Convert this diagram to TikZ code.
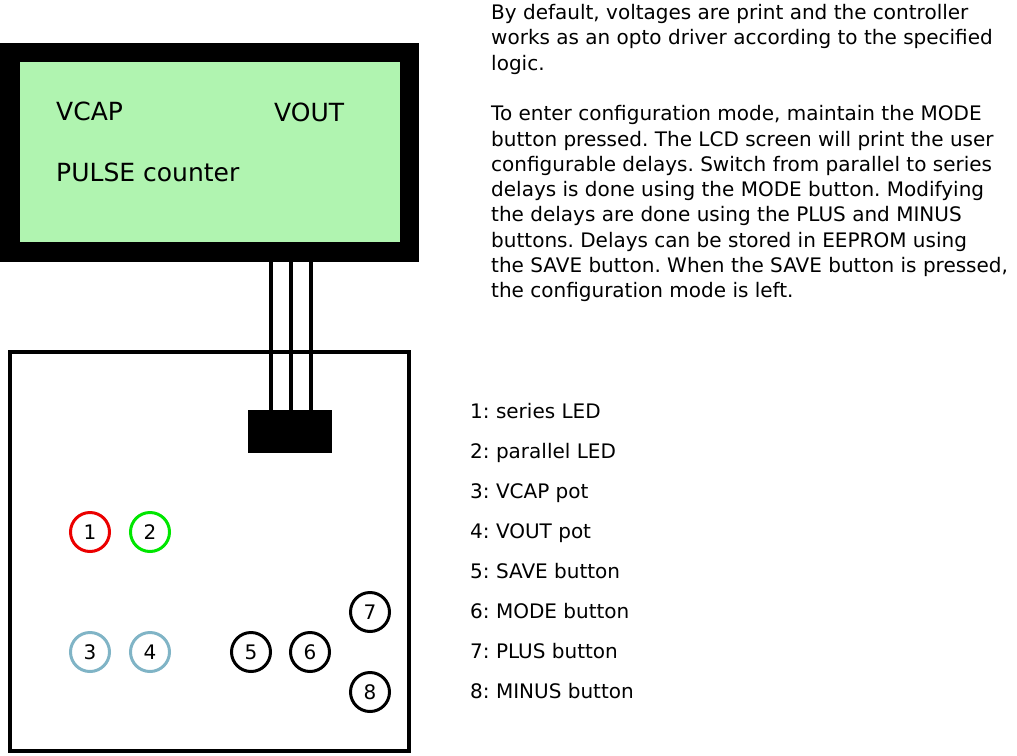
\documentclass[tikz,border=0pt]{standalone}
\usepackage{fontspec}
\setmainfont{DejaVu Sans}
\frenchspacing
\definecolor{lcdgreen}{RGB}{176,244,176}
\definecolor{ledred}{RGB}{235,0,0}
\definecolor{ledgreen}{RGB}{0,230,0}
\definecolor{potblue}{RGB}{128,180,198}
\begin{document}
\begin{tikzpicture}[x=1pt,y=-1pt,
  txt/.style={anchor=base west,inner sep=0pt,font=\fontsize{20}{25}\selectfont},
  lcdtxt/.style={anchor=base west,inner sep=0pt,font=\fontsize{25}{30}\selectfont},
  part/.style={circle,draw,line width=3pt,minimum size=39pt,inner sep=0pt,font=\fontsize{20}{24}\selectfont},
  wire/.style={line width=4pt}]
\useasboundingbox (0,0) rectangle (1017,755);
% LCD
\node[fill=black,inner sep=0pt,minimum width=419.3pt,minimum height=219pt] (lcd) at (209.65,152) {};
\node[fill=lcdgreen,inner sep=0pt,minimum width=379.7pt,minimum height=179.7pt] (screen) at (210.15,152) {};
\node[lcdtxt] (vcap) at (56,120) {VCAP};
\node[lcdtxt] (vout) at (274,121) {VOUT};
\node[lcdtxt] (pulse) at (56,181) {PULSE counter};
% board
\node[draw,line width=4pt,inner sep=0pt,minimum width=399pt,minimum height=399pt] (board) at (209.5,551.5) {};
\node[fill=black,inner sep=0pt,minimum width=83.4pt,minimum height=43.3pt] (chip) at (290,431.65) {};
% wires
\foreach \x [count=\i] in {270.5,290.5,310.5}{
  \coordinate (w\i) at (\x,0);
  \draw[wire] (lcd.south -| w\i) -- (chip.north -| w\i);
}
% parts
\node[part,draw=ledred] (c1) at (90,532) {1};
\node[part,draw=ledgreen] (c2) at (150,532) {2};
\node[part,draw=potblue] (c3) at (90,652) {3};
\node[part,draw=potblue] (c4) at (150,652) {4};
\node[part] (c5) at (251,652) {5};
\node[part] (c6) at (310,652) {6};
\node[part] (c7) at (370,612) {7};
\node[part] (c8) at (370,692) {8};
% description
\foreach \t [count=\i from 0] in {
  {By default, voltages are print and the controller},
  {works as an opto driver according to the specified},
  {logic.},
  {},
  {To enter configuration mode, maintain the MODE},
  {button pressed. The LCD screen will print the user},
  {configurable delays. Switch from parallel to series},
  {delays is done using the MODE button. Modifying},
  {the delays are done using the PLUS and MINUS},
  {buttons. Delays can be stored in EEPROM using},
  {the SAVE button. When the SAVE button is pressed,},
  {the configuration mode is left.}}{
  \node[txt] (p\i) at (491,19.5+25.3*\i) {\t};
}
% legend
\foreach \t [count=\i from 0] in {
  {1: series LED},{2: parallel LED},{3: VCAP pot},{4: VOUT pot},
  {5: SAVE button},{6: MODE button},{7: PLUS button},{8: MINUS button}}{
  \node[txt] (l\i) at (470,418+40*\i) {\t};
}
\end{tikzpicture}
\end{document}
